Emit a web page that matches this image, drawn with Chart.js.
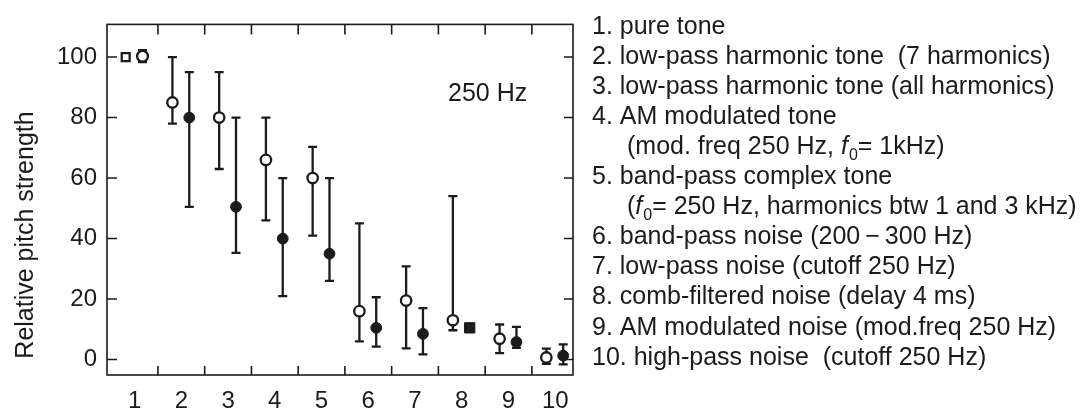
<!DOCTYPE html>
<html>
<head>
<meta charset="utf-8">
<script src="https://cdn.jsdelivr.net/npm/chart.js@4"></script>
<style>
  body { margin: 0; background: #fff; }
  #wrap { width: 1085px; height: 414px; position: relative; }
</style>
</head>
<body>
<div id="wrap"><canvas id="pitchChart"></canvas></div>
<script>
const categories = [1, 2, 3, 4, 5, 6, 7, 8, 9, 10];
const yTicks = [0, 20, 40, 60, 80, 100];

// left marker of each pair (open symbols)
const condAMean = [100, 85, 80, 66, 60, 16, 19.5, 13, 6.9, 0.7];
const condALow = [null, 78, 63, 46, 41, 6, 3.7, 9.7, 2.1, -1.4];
const condAHigh = [null, 100, 95, 80, 70.3, 45, 30.8, 54, 11.6, 3.6];

// right marker of each pair (filled symbols, except the open circle at 1)
const condBMean = [100.3, 80, 50.5, 40, 35, 10.5, 8.5, 10.5, 5.8, 1.3];
const condBLow = [98.3, 50.5, 35.3, 21, 26, 4.3, 1.7, null, 3.9, -1.6];
const condBHigh = [102.3, 95, 80, 60, 60, 20.6, 17, null, 10.8, 5];

const yTitle = "Relative pitch strength";
const annotation = "250 Hz";
const legendLines = [
  [{ t: "1. pure tone" }],
  [{ t: "2. low-pass harmonic tone  (7 harmonics)" }],
  [{ t: "3. low-pass harmonic tone (all harmonics)" }],
  [{ t: "4. AM modulated tone" }],
  [{ t: "(mod. freq 250 Hz, ", indent: true }, { t: "f", italic: true }, { t: "0", sub: true }, { t: "= 1kHz)" }],
  [{ t: "5. band-pass complex tone" }],
  [{ t: "(", indent: true }, { t: "f", italic: true }, { t: "0", sub: true }, { t: "= 250 Hz, harmonics btw 1 and 3 kHz)" }],
  [{ t: "6. band-pass noise (200\u2009\u2212\u2009300 Hz)" }],
  [{ t: "7. low-pass noise (cutoff 250 Hz)" }],
  [{ t: "8. comb-filtered noise (delay 4 ms)" }],
  [{ t: "9. AM modulated noise (mod.freq 250 Hz)" }],
  [{ t: "10. high-pass noise  (cutoff 250 Hz)" }]
];

const INK = "#1c1a1b";
const FONT = "'Liberation Sans', Arial, Helvetica, sans-serif";
const LEFT_SHIFT = -0.19;
const RIGHT_SHIFT = 0.17;

function points(means, shift) {
  return categories.map((c, i) => ({ x: c + shift, y: means[i] }));
}

const errorBars = {
  id: "errorBars",
  beforeDatasetsDraw(chart) {
    const ctx = chart.ctx;
    const xs = chart.scales.x;
    const ys = chart.scales.y;
    ctx.save();
    ctx.strokeStyle = INK;
    ctx.lineWidth = 2.3;
    chart.data.datasets.forEach(ds => {
      ds.data.forEach((p, i) => {
        const lo = ds.errLow[i];
        const hi = ds.errHigh[i];
        if (lo === null || hi === null) return;
        const px = xs.getPixelForValue(p.x);
        const yLo = ys.getPixelForValue(lo);
        const yHi = ys.getPixelForValue(hi);
        ctx.beginPath();
        ctx.moveTo(px, yLo);
        ctx.lineTo(px, yHi);
        ctx.moveTo(px - 4.5, yLo);
        ctx.lineTo(px + 4.5, yLo);
        ctx.moveTo(px - 4.5, yHi);
        ctx.lineTo(px + 4.5, yHi);
        ctx.stroke();
      });
    });
    ctx.restore();
  }
};

const frameAndText = {
  id: "frameAndText",
  afterDatasetsDraw(chart) {
    const ctx = chart.ctx;
    const a = chart.chartArea;
    const xs = chart.scales.x;
    const ys = chart.scales.y;
    ctx.save();
    ctx.strokeStyle = INK;
    ctx.lineWidth = 1.6;
    ctx.strokeRect(a.left, a.top, a.right - a.left, a.bottom - a.top);

    // inward ticks: y at the values, x between categories
    ctx.beginPath();
    yTicks.forEach(v => {
      const py = ys.getPixelForValue(v);
      ctx.moveTo(a.left, py);
      ctx.lineTo(a.left + 10, py);
      ctx.moveTo(a.right, py);
      ctx.lineTo(a.right - 9, py);
    });
    categories.slice(0, -1).forEach(c => {
      const px = xs.getPixelForValue(c + 0.5);
      ctx.moveTo(px, a.bottom);
      ctx.lineTo(px, a.bottom - 9);
      ctx.moveTo(px, a.top);
      ctx.lineTo(px, a.top + 10);
    });
    ctx.stroke();

    ctx.fillStyle = INK;
    ctx.font = "25px " + FONT;
    ctx.textBaseline = "alphabetic";
    ctx.textAlign = "left";
    ctx.fillText(annotation, 448, 101);

    // y title
    ctx.save();
    ctx.translate(33, 235);
    ctx.rotate(-Math.PI / 2);
    ctx.textAlign = "center";
    ctx.fillText(yTitle, 0, 0);
    ctx.restore();

    // condition list on the right
    legendLines.forEach((segs, i) => {
      const base = 33.5 + 30.1 * i;
      let x = segs[0].indent ? 627 : 592;
      segs.forEach(s => {
        let y = base;
        if (s.italic) ctx.font = "italic 25px " + FONT;
        else if (s.sub) { ctx.font = "16px " + FONT; y = base + 6; }
        else ctx.font = "25px " + FONT;
        ctx.fillText(s.t, x, y);
        x += ctx.measureText(s.t).width + (s.italic ? 1 : 0);
      });
    });
    ctx.restore();
  }
};

new Chart(document.getElementById("pitchChart"), {
  type: "scatter",
  data: {
    datasets: [
      {
        label: "A",
        data: points(condAMean, LEFT_SHIFT),
        errLow: condALow,
        errHigh: condAHigh,
        pointStyle: categories.map(c => c === 1 ? "rect" : "circle"),
        pointRadius: categories.map(c => c === 1 ? 5.6 : 5.2),
        backgroundColor: "#ffffff",
        borderColor: INK,
        borderWidth: 2.3
      },
      {
        label: "B",
        data: points(condBMean, RIGHT_SHIFT),
        errLow: condBLow,
        errHigh: condBHigh,
        pointStyle: categories.map(c => c === 8 ? "rect" : "circle"),
        pointRadius: categories.map(c => c === 8 ? 7.3 : 5.4),
        backgroundColor: categories.map(c => c === 1 ? "#ffffff" : INK),
        borderColor: INK,
        borderWidth: categories.map(c => c === 1 ? 2.3 : 1)
      }
    ]
  },
  options: {
    responsive: true,
    maintainAspectRatio: false,
    devicePixelRatio: 1,
    animation: false,
    layout: { padding: { top: 10, right: 512, left: 0, bottom: 0 } },
    plugins: {
      legend: { display: false },
      tooltip: { enabled: false }
    },
    scales: {
      x: {
        type: "linear",
        min: 0.41,
        max: 10.38,
        afterBuildTicks: s => { s.ticks = categories.map(v => ({ value: v })); },
        afterFit: s => { s.height = 39; },
        grid: { display: false, drawTicks: false },
        border: { display: false },
        ticks: {
          autoSkip: false,
          maxRotation: 0,
          padding: 12,
          color: INK,
          font: { family: FONT, size: 24 }
        }
      },
      y: {
        min: -5.1,
        max: 110.8,
        afterBuildTicks: s => { s.ticks = yTicks.map(v => ({ value: v })); },
        afterFit: s => { s.width = 107; },
        grid: { display: false, drawTicks: false },
        border: { display: false },
        ticks: {
          autoSkip: false,
          padding: 10,
          color: INK,
          font: { family: FONT, size: 24 }
        }
      }
    }
  },
  plugins: [errorBars, frameAndText]
});
</script>
</body>
</html>
